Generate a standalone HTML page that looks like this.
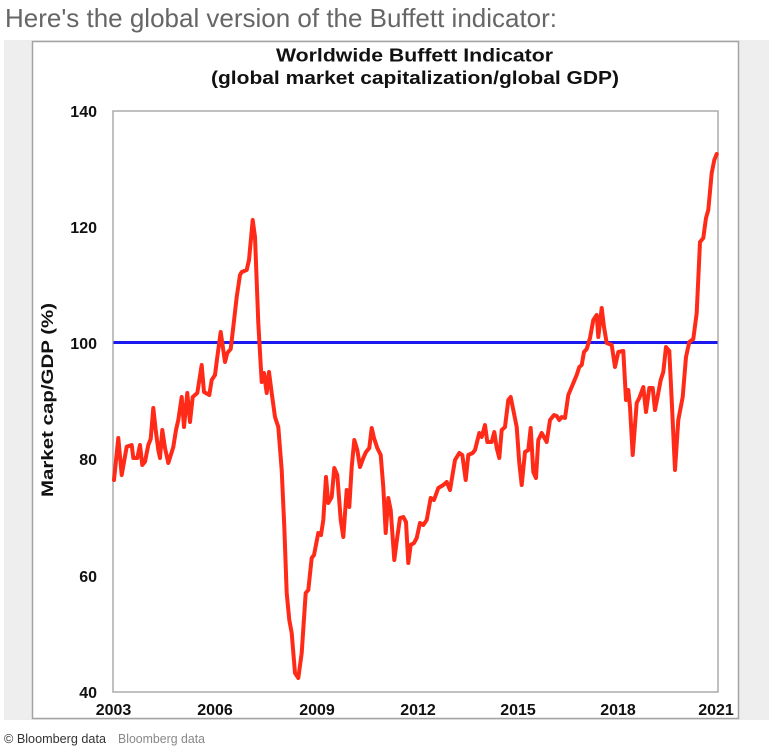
<!DOCTYPE html>
<html>
<head>
<meta charset="utf-8">
<style>
  html, body { margin:0; padding:0; background:#ffffff; }
  body { width:775px; height:750px; overflow:hidden; }
  svg { display:block; }
</style>
</head>
<body>
<svg width="775" height="750" viewBox="0 0 775 750" xmlns="http://www.w3.org/2000/svg">
  <!-- heading -->
  <text x="5" y="27" font-family="Liberation Sans, sans-serif" font-size="26" fill="#666" textLength="552" lengthAdjust="spacingAndGlyphs">Here's the global version of the Buffett indicator:</text>

  <!-- grey background panel -->
  <rect x="4" y="40" width="765" height="680" fill="#eeeeee"/>
  <!-- white chart box -->
  <rect x="32.5" y="41.5" width="706" height="677" fill="#ffffff" stroke="#a3a3a3" stroke-width="1.5"/>

  <!-- title -->
  <text x="414.5" y="61.5" text-anchor="middle" font-family="Liberation Sans, sans-serif" font-weight="bold" font-size="18" fill="#111" textLength="277" lengthAdjust="spacingAndGlyphs">Worldwide Buffett Indicator</text>
  <text x="415" y="84" text-anchor="middle" font-family="Liberation Sans, sans-serif" font-weight="bold" font-size="18" fill="#111" textLength="408" lengthAdjust="spacingAndGlyphs">(global market capitalization/global GDP)</text>

  <!-- plot area -->
  <rect x="113" y="111" width="605" height="581" fill="#ffffff" stroke="#ababab" stroke-width="1.5"/>

  <!-- y tick labels -->
  <g font-family="Liberation Sans, sans-serif" font-weight="bold" font-size="16" fill="#111" text-anchor="end">
    <text x="97" y="117">140</text>
    <text x="97" y="233">120</text>
    <text x="97" y="349">100</text>
    <text x="97" y="465">80</text>
    <text x="97" y="582">60</text>
    <text x="97" y="698">40</text>
  </g>

  <!-- x tick labels -->
  <g font-family="Liberation Sans, sans-serif" font-weight="bold" font-size="16" fill="#111" text-anchor="middle">
    <text x="113.5" y="715">2003</text>
    <text x="215" y="715">2006</text>
    <text x="317" y="715">2009</text>
    <text x="418" y="715">2012</text>
    <text x="518" y="715">2015</text>
    <text x="618" y="715">2018</text>
    <text x="716" y="715">2021</text>
  </g>

  <!-- y axis title -->
  <text transform="translate(53,400) rotate(-90)" text-anchor="middle" font-family="Liberation Sans, sans-serif" font-weight="bold" font-size="17" fill="#111" textLength="194" lengthAdjust="spacingAndGlyphs">Market cap/GDP (%)</text>

  <!-- 100% reference line -->
  <line x1="113.5" y1="342.5" x2="717.5" y2="342.5" stroke="#1a1aee" stroke-width="3"/>

  <!-- series -->
  <polyline fill="none" stroke="#ff2a18" stroke-width="4" stroke-linejoin="round" stroke-linecap="round" points="
114,480 118.3,438 121.7,475 126.7,446.7 131.7,445 133.3,458 137.3,458 140,445 142.3,465 145,461.7
148.3,445 150.7,439 153.3,408 155.7,430 158.3,450 160,458 162.3,430 165,448 168.3,463 173.3,447
176,430 178.3,420 181.7,397 184,427 187.3,393 190,422 192.7,397 197.3,393 201.7,365 204,392
209.3,395 211.7,380 215,375 217.3,357 220.7,332 225,362 227.3,353 230.7,349 233.3,327 236.7,297
240,275 241.7,272 246.7,270 249,260 252.7,220 255,237 258.3,323 261.7,382 264,373 266.7,393
269,372 271.7,393 275,417 278.3,427 281.7,470 284.3,527 286.7,593 289.3,620 291.7,633 295,673
298.3,678 301.7,653 305.7,593 308.3,590 311.7,558 314,555 318.3,533 321,535 323.3,520 326,477
328.3,503 331.7,497 334.3,468 337.3,475 340.7,520 343.3,537 346.7,490 349.3,507 351.7,467 354.3,440
357.3,450 360,467 363.3,458 366,452 369.3,448 371.7,428 374,438 377.3,448 380.7,455 383.3,487
385.7,533 388.3,498 390.7,510 394.3,560 397.3,537 400,518 403.3,517 406,522 408.3,563 410.7,545
414,543 416.7,538 420,523 423.3,525 426.7,520 430.7,498 434,500 438.3,488 443.3,485 446.7,482
450,490 455,460 459.3,453 462.3,455 465.7,480 468.3,455 472.7,453 475,450 479.3,433 481.7,437
485,425 487.3,442 491.7,442 494.3,432 496.7,448 499.3,458 501.7,430 505,427 508.3,400 510.7,397
513.3,410 516.7,427 519.3,463 521.7,485 525,452 528.3,450 530.7,428 533.3,472 536,478 538.3,440
541.7,433 546.7,442 550,420 554,415 556.7,416 559.3,420 561.7,417 565,418 568.3,395 571.7,387
576.7,375 579.3,367 581.7,365 584,352 586.7,349 590,338 593.3,320 596.7,315 598.3,337 601.7,308
604,327 606.7,343 611.7,345 615,367 618.3,352 623.3,351 626,400 628.3,390 630,407 632.7,455
636.7,403 639.3,398 643.3,387 646,412 649.3,388 652.7,388 655,410 658.3,393 660.7,380 663.3,372
666,347 669.3,351 671.7,400 675,470 678.3,420 682.7,397 686,357 689.3,342 693.3,339 696.7,313
700,242 703.3,238 706,218 708.3,210 711.7,173 714.3,160 716.7,154"/>

  <!-- footer -->
  <text x="4" y="743" font-family="Liberation Sans, sans-serif" font-size="12.5" fill="#333" textLength="102" lengthAdjust="spacingAndGlyphs">© Bloomberg data</text>
  <text x="118" y="743" font-family="Liberation Sans, sans-serif" font-size="12.5" fill="#888" textLength="87" lengthAdjust="spacingAndGlyphs">Bloomberg data</text>
</svg>
</body>
</html>
